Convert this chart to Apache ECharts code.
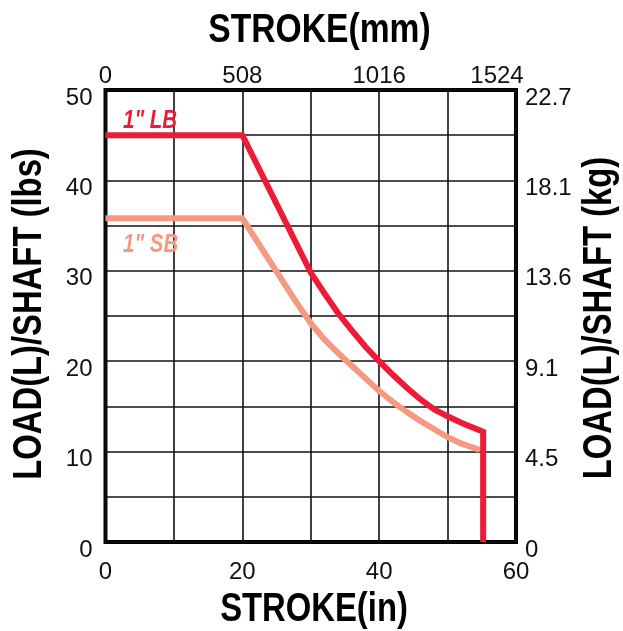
<!DOCTYPE html>
<html><head><meta charset="utf-8">
<script src="https://cdn.jsdelivr.net/npm/echarts@6/dist/echarts.min.js"></script>
<style>html,body{margin:0;padding:0;background:#fff}#c{width:623px;height:631px}</style>
</head><body><div id="c"></div>
<script>
// Data
const lbX = [0, 20, 30, 32, 34, 36, 38, 40, 42, 44, 46, 48, 50, 52, 55.2, 55.2];
const lbY = [45, 45, 29.8, 27.5, 25.3, 23.4, 21.6, 20, 18.5, 17.1, 15.8, 14.7, 13.9, 13.2, 12.2, 0];
const sbX = [0, 20, 25, 28, 30, 32, 34, 36, 38, 40, 42, 44, 46, 48, 50, 52, 54.7];
const sbY = [35.8, 35.8, 29.9, 26.4, 24.2, 22.4, 20.9, 19.5, 18.1, 16.7, 15.5, 14.4, 13.4, 12.5, 11.6, 10.9, 10.2];
const inTicks = [0, 20, 40, 60];
const mmLabels = ['0', '508', '1016', '1524'];
const lbsTicks = [0, 10, 20, 30, 40, 50];
const kgLabels = ['0', '4.5', '9.1', '13.6', '18.1', '22.7'];
const seriesNames = ['1" LB', '1" SB'];

const RED = '#ED1C36', SALMON = '#F59A80';
const LBL = '"Liberation Sans", Arial, sans-serif';

const chart = echarts.init(document.getElementById('c'), null, {renderer: 'canvas'});
const tickFont = {fontFamily: LBL, fontSize: 24, color: '#111'};
const gridL = 105.5, gridT = 90, gridW = 410.5, gridH = 452;

function txt(text, x, y, font, fill, align, rot) {
  return {type: 'text', x: x, y: y, rotation: rot || 0, scaleX: 0.82, z: 10,
    style: {text: text, font: font, fill: fill, align: align, verticalAlign: 'middle',
            textAlign: align, textVerticalAlign: 'middle'}};
}

chart.setOption({
  animation: false,
  backgroundColor: '#fff',
  grid: {left: gridL, top: gridT, width: gridW, height: gridH, show: true,
         borderColor: '#000', borderWidth: 4, backgroundColor: 'transparent'},
  xAxis: [
    {type: 'value', position: 'bottom', min: 0, max: 60, interval: 10,
     axisLine: {show: false}, axisTick: {show: false},
     splitLine: {show: true, lineStyle: {color: '#111', width: 1.6}},
     axisLabel: Object.assign({margin: 18, formatter: v => inTicks.indexOf(v) >= 0 ? String(v) : ''}, tickFont)},
    {type: 'value', position: 'top', min: 0, max: 60, interval: 20,
     axisLine: {show: false}, axisTick: {show: false}, splitLine: {show: false},
     axisLabel: Object.assign({margin: 2,
       formatter: v => { const i = inTicks.indexOf(v); if (i < 0) return ''; return i === 3 ? '{r|' + mmLabels[i] + '}' : mmLabels[i]; },
       rich: {r: Object.assign({padding: [0, 38, 0, 0]}, tickFont)}}, tickFont)}
  ],
  yAxis: [
    {type: 'value', position: 'left', min: 0, max: 50, interval: 5,
     axisLine: {show: false}, axisTick: {show: false},
     splitLine: {show: true, lineStyle: {color: '#111', width: 1.6}},
     axisLabel: Object.assign({margin: 13, verticalAlign: 'top', lineHeight: 16,
       formatter: v => lbsTicks.indexOf(v) >= 0 ? String(v) : ''}, tickFont)},
    {type: 'value', position: 'right', min: 0, max: 50, interval: 10,
     axisLine: {show: false}, axisTick: {show: false}, splitLine: {show: false},
     axisLabel: Object.assign({margin: 9, verticalAlign: 'top', lineHeight: 16,
       formatter: v => { const i = lbsTicks.indexOf(v); return i >= 0 ? kgLabels[i] : ''; }}, tickFont)}
  ],
  series: [
    {name: seriesNames[0], type: 'line', xAxisIndex: 0, yAxisIndex: 0, showSymbol: false, z: 5,
     data: lbX.map((x, i) => [x, lbY[i]]), lineStyle: {color: RED, width: 6, cap: 'butt', join: 'miter'}},
    {name: seriesNames[1], type: 'line', xAxisIndex: 0, yAxisIndex: 0, showSymbol: false, z: 4,
     data: sbX.map((x, i) => [x, sbY[i]]), lineStyle: {color: SALMON, width: 6, cap: 'butt', join: 'miter'}}
  ],
  graphic: [
    txt('STROKE(mm)', 319.5, 31, 'bold 41px ' + LBL, '#000', 'center'),
    txt('STROKE(in)', 314, 610, 'bold 40px ' + LBL, '#000', 'center'),
    txt('LOAD(L)/SHAFT (lbs)', 30, 314, 'bold 40px ' + LBL, '#000', 'center', Math.PI / 2),
    txt('LOAD(L)/SHAFT (kg)', 600, 318, 'bold 40px ' + LBL, '#000', 'center', Math.PI / 2),
    txt(seriesNames[0], 123, 121, 'italic bold 25px ' + LBL, RED, 'left'),
    txt(seriesNames[1], 123, 245, 'italic bold 25px ' + LBL, SALMON, 'left')
  ]
});
</script></body></html>
